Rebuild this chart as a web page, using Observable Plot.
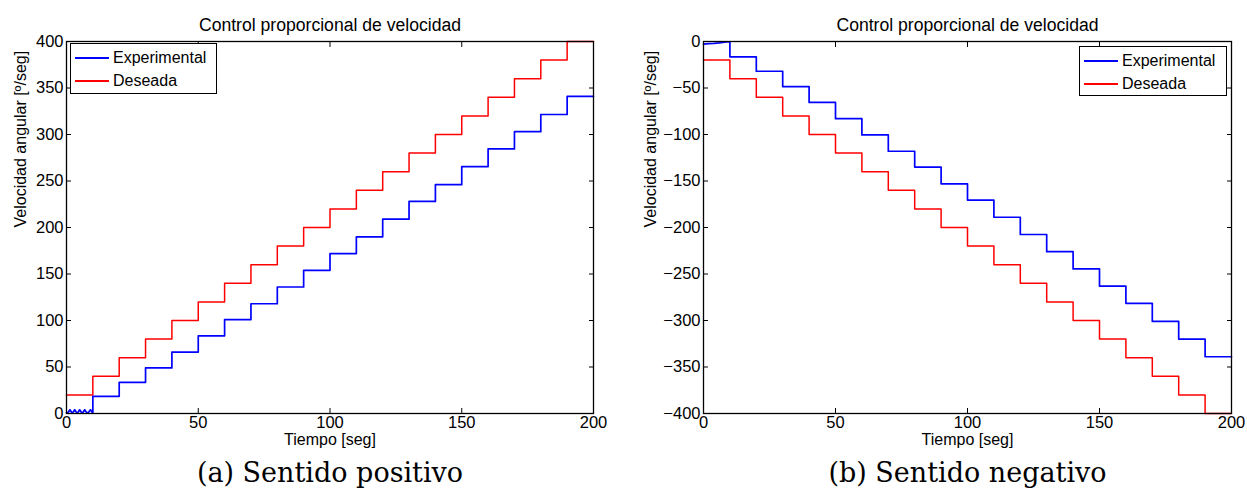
<!DOCTYPE html>
<html>
<head>
<meta charset="utf-8">
<script src="https://cdn.jsdelivr.net/npm/d3@7"></script>
<script src="https://cdn.jsdelivr.net/npm/@observablehq/plot@0.6"></script>
<style>
  html, body { margin: 0; padding: 0; background: #fff; }
  #wrap { position: relative; width: 1247px; height: 498px; overflow: hidden; font-family: "Liberation Sans", Arial, sans-serif; }
  .panel { position: absolute; top: 0; }
  .legend { position: absolute; border: 1.3px solid #000; background: #fff; font-size: 16px; color: #000; box-sizing: border-box; padding: 2px 4px 0 4px; }
  .legend .row { display: flex; align-items: center; height: 23px; }
  .legend .sw { display: inline-block; width: 34px; height: 2px; margin-right: 4px; }
</style>
</head>
<body>
<div id="wrap"></div>
<script>
// ---- data ----
const title = "Control proporcional de velocidad";
const xLabel = "Tiempo [seg]";
const yLabel = "Velocidad angular [º/seg]";
const seriesNames = ["Experimental", "Deseada"];
const seriesColors = ["#0000ff", "#ff0000"];
const xTicks = [0, 50, 100, 150, 200];
const posYTicks = [0, 50, 100, 150, 200, 250, 300, 350, 400];
const negYTicks = [-400, -350, -300, -250, -200, -150, -100, -50, 0];

// start time of each 10 s step
const segStart = [0, 10, 20, 30, 40, 50, 60, 70, 80, 90, 100, 110, 120, 130, 140, 150, 160, 170, 180, 190];

// (a) positive direction
const posDeseada = [20, 40, 60, 80, 100, 120, 140, 160, 180, 200, 220, 240, 260, 280, 300, 320, 340, 360, 380, 400];
const posExperimental = [1, 18.5, 33.5, 49, 66, 83.5, 101, 118, 136, 154, 172, 190, 209, 228, 246, 265.5, 284.5, 303, 321.5, 341];
const posStartT = [0, 0.6, 1.3, 2.0, 2.4, 3.1, 3.8, 4.3, 5.0, 5.7, 6.2, 6.9, 7.6, 8.3, 9.1, 9.8, 10];
const posStartV = [1, 1, 4, 1, 1, 4, 1, 1, 4, 1, 1, 4, 1, 1, 4, 1, 1];

// (b) negative direction
const negDeseada = [-20, -40, -60, -80, -100, -120, -140, -160, -180, -200, -220, -240, -260, -280, -300, -320, -340, -360, -380, -400];
const negExperimental = [-1, -16.5, -32, -48.5, -65.5, -83, -100.5, -118, -135, -153, -170.5, -189, -207.5, -226, -244.5, -263, -281.5, -301, -320, -339];
const negStartT = [0, 2, 4, 6, 8, 9.5, 10];
const negStartV = [-2.8, -2.3, -2, -1.5, -0.8, -0.3, -0.5];

// ---- build ----
function stepPoints(levels, startT, startV) {
  const pts = startT.map((t, i) => ({t, v: startV[i]}));
  for (let i = 1; i < segStart.length; i++) {
    pts.push({t: segStart[i], v: levels[i]});
    pts.push({t: segStart[i] + 10, v: levels[i]});
  }
  return pts;
}
function desPoints(levels) {
  const pts = segStart.map((t, i) => ({t, v: levels[i]}));
  pts.push({t: 200, v: levels[levels.length - 1]});
  return pts;
}

function panel(cfg) {
  const plot = Plot.plot({
    width: cfg.width,
    height: 498,
    marginLeft: cfg.ml,
    marginRight: cfg.mr,
    marginTop: 41,
    marginBottom: 85,
    style: {fontFamily: "'Liberation Sans', Arial, sans-serif", fontSize: "16.5px", color: "#000", background: "#fff", overflow: "visible"},
    x: {domain: [0, 200]},
    y: {domain: cfg.yDomain},
    marks: [
      Plot.line(desPoints(cfg.des), {x: "t", y: "v", stroke: seriesColors[1], strokeWidth: 1.5, curve: "step-after"}),
      Plot.line(stepPoints(cfg.exp, cfg.startT, cfg.startV), {x: "t", y: "v", stroke: seriesColors[0], strokeWidth: 1.7}),
      Plot.frame({stroke: "#000", strokeWidth: 1.3}),
      Plot.axisX(xTicks, {anchor: "bottom", tickSize: -5, tickPadding: 8, label: null}),
      Plot.axisX(xTicks, {anchor: "top", tickSize: -5, tickFormat: () => "", label: null}),
      Plot.axisY(cfg.yTicks, {anchor: "left", tickSize: -5, tickPadding: 8, label: null}),
      Plot.axisY(cfg.yTicks, {anchor: "right", tickSize: -5, tickFormat: () => "", label: null}),
      Plot.text([title], {frameAnchor: "top", dy: -23, fontSize: 17.6}),
      Plot.text([xLabel], {frameAnchor: "bottom", dy: 31, fontSize: 16}),
      Plot.text([yLabel], {frameAnchor: "left", rotate: -90, dx: cfg.ylDx, fontSize: 16}),
      Plot.text([cfg.caption], {frameAnchor: "bottom", dy: 68, fontSize: 27, fontFamily: "'DejaVu Serif', 'Liberation Serif', serif"})
    ]
  });
  const div = document.createElement("div");
  div.className = "panel";
  div.style.left = cfg.left + "px";
  div.appendChild(plot);
  const lg = document.createElement("div");
  lg.className = "legend";
  lg.style.left = cfg.legend[0] + "px";
  lg.style.top = cfg.legend[1] + "px";
  lg.style.width = cfg.legend[2] + "px";
  lg.style.height = cfg.legend[3] + "px";
  seriesNames.forEach((n, i) => {
    const r = document.createElement("div");
    r.className = "row";
    const sw = document.createElement("span");
    sw.className = "sw";
    sw.style.background = seriesColors[i];
    const tx = document.createElement("span");
    tx.textContent = n;
    r.appendChild(sw);
    r.appendChild(tx);
    lg.appendChild(r);
  });
  div.appendChild(lg);
  document.getElementById("wrap").appendChild(div);
}

panel({left: 0, width: 620, ml: 66, mr: 27, yDomain: [0, 400], yTicks: posYTicks,
  des: posDeseada, exp: posExperimental, startT: posStartT, startV: posStartV,
  caption: "(a) Sentido positivo", ylDx: -46, legend: [70, 43, 147, 51]});
panel({left: 620, width: 627, ml: 83, mr: 16, yDomain: [-400, 0], yTicks: negYTicks,
  des: negDeseada, exp: negExperimental, startT: negStartT, startV: negStartV,
  caption: "(b) Sentido negativo", ylDx: -53, legend: [459, 46, 148, 50]});
</script>
</body>
</html>
